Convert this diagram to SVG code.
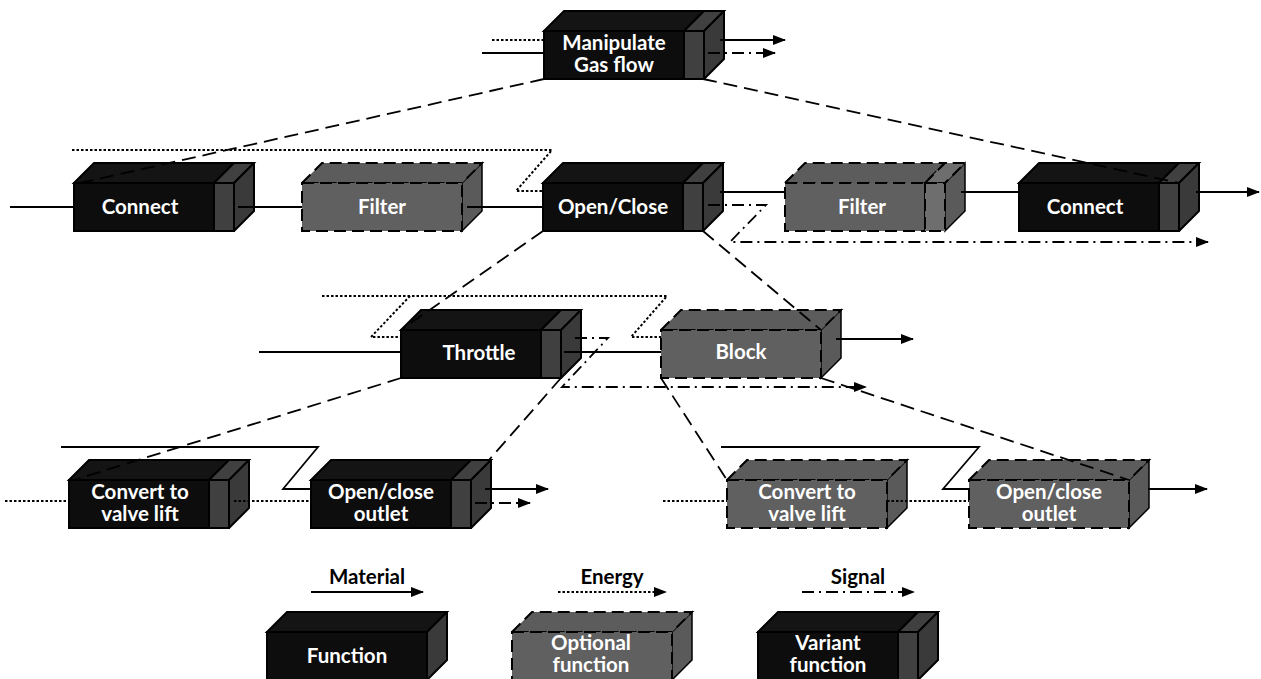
<svg xmlns="http://www.w3.org/2000/svg" xmlns:xlink="http://www.w3.org/1999/xlink" width="1261" height="679" viewBox="0 0 1261 679">
<style>
.bg{fill:#fff}
.fk{fill:#0d0d0d;stroke:#000;stroke-width:2}
.tk{fill:#141414;stroke:#000;stroke-width:2}
.sk{fill:#404040;stroke:#000;stroke-width:2}
.rk{fill:#3a3a3a;stroke:#000;stroke-width:2;stroke-linejoin:round}
.fg{fill:#606060;stroke:#000;stroke-width:2;stroke-dasharray:12 6}
.tg{fill:#5c5c5c;stroke:#000;stroke-width:2;stroke-dasharray:12 6}
.rg{fill:#5a5a5a;stroke:#000;stroke-width:1.5}
.sg{fill:#6e6e6e;stroke:#000;stroke-width:2;stroke-dasharray:12 6}
.lbl{font-family:Lato,"Liberation Sans",sans-serif;font-weight:bold;font-size:20.5px;fill:#fff;text-anchor:middle}
.leg{font-family:Lato,"Liberation Sans",sans-serif;font-weight:bold;font-size:20.5px;fill:#000;text-anchor:middle}
.c{fill:none;stroke:#000;stroke-width:1.8}
.mat{}
.en{stroke-dasharray:2.5 2;stroke-width:2}
.sig{stroke-dasharray:12 5 2 5}
.hier{stroke-dasharray:14 7;stroke-width:1.8}
</style>
<defs>
<marker id="ah" markerUnits="userSpaceOnUse" markerWidth="13" markerHeight="10" refX="12" refY="5" orient="auto">
<path d="M0,0 L13,5 L0,10 z" fill="#000"/>
</marker>
<g id="bv">
<polygon class="tk" points="0,0 20,-20 160,-20 140,0"/>
<polygon class="sk" points="140,0 160,-20 180,-20 160,0"/>
<polygon class="rk" points="160,0 180,-20 180,28 160,48"/>
<rect class="fk" x="0" y="0" width="140" height="48"/>
<rect class="sk" x="140" y="0" width="20" height="48"/>
</g>
<g id="bp">
<polygon class="tk" points="0,0 20,-20 180,-20 160,0"/>
<polygon class="rk" points="160,0 180,-20 180,28 160,48"/>
<rect class="fk" x="0" y="0" width="160" height="48"/>
</g>
<g id="go">
<polygon class="rg" points="160,0 180,-20 180,28 160,48"/>
<polygon class="tg" points="0,0 20,-20 180,-20 160,0"/>
<rect class="fg" x="0" y="0" width="160" height="48"/>
</g>
<g id="gov">
<polygon class="rg" points="160,0 180,-20 180,28 160,48"/>
<polygon class="tg" points="0,0 20,-20 160,-20 140,0"/>
<polygon class="sg" points="140,0 160,-20 180,-20 160,0"/>
<rect class="fg" x="0" y="0" width="140" height="48"/>
<rect class="sg" x="140" y="0" width="20" height="48"/>
</g>
</defs>
<rect class="bg" x="0" y="0" width="1261" height="679"/>

<g id="n-manipulate">
<use xlink:href="#bv" href="#bv" x="544" y="31"/>
<text class="lbl" x="614" y="50">Manipulate</text>
<text class="lbl" x="614" y="72">Gas flow</text>
</g>
<g id="n-connect-l">
<use xlink:href="#bv" href="#bv" x="74" y="183"/>
<text class="lbl" x="140" y="214">Connect</text>
</g>
<g id="n-filter-l">
<use xlink:href="#go" href="#go" x="302" y="183"/>
<text class="lbl" x="382" y="214">Filter</text>
</g>
<g id="n-openclose">
<use xlink:href="#bv" href="#bv" x="543" y="183"/>
<text class="lbl" x="613" y="214">Open/Close</text>
</g>
<g id="n-filter-r">
<use xlink:href="#gov" href="#gov" x="785" y="183"/>
<text class="lbl" x="862" y="214">Filter</text>
</g>
<g id="n-connect-r">
<use xlink:href="#bv" href="#bv" x="1019" y="183"/>
<text class="lbl" x="1085" y="214">Connect</text>
</g>
<g id="n-throttle">
<use xlink:href="#bv" href="#bv" x="401" y="330"/>
<text class="lbl" x="479" y="360">Throttle</text>
</g>
<g id="n-block">
<use xlink:href="#go" href="#go" x="661" y="330"/>
<text class="lbl" x="741" y="359">Block</text>
</g>
<g id="n-convert-l">
<use xlink:href="#bv" href="#bv" x="69" y="480"/>
<text class="lbl" x="140" y="499">Convert to</text>
<text class="lbl" x="140" y="521">valve lift</text>
</g>
<g id="n-outlet-l">
<use xlink:href="#bv" href="#bv" x="311" y="480"/>
<text class="lbl" x="381" y="499">Open/close</text>
<text class="lbl" x="381" y="521">outlet</text>
</g>
<g id="n-convert-r">
<use xlink:href="#go" href="#go" x="727" y="480"/>
<text class="lbl" x="807" y="499">Convert to</text>
<text class="lbl" x="807" y="521">valve lift</text>
</g>
<g id="n-outlet-r">
<use xlink:href="#go" href="#go" x="969" y="480"/>
<text class="lbl" x="1049" y="499">Open/close</text>
<text class="lbl" x="1049" y="521">outlet</text>
</g>
<g id="n-legend-function">
<use xlink:href="#bp" href="#bp" x="267" y="632"/>
<text class="lbl" x="347" y="663">Function</text>
</g>
<g id="n-legend-optional">
<use xlink:href="#go" href="#go" x="512" y="632"/>
<text class="lbl" x="591" y="650">Optional</text>
<text class="lbl" x="591" y="672">function</text>
</g>
<g id="n-legend-variant">
<use xlink:href="#bv" href="#bv" x="758" y="632"/>
<text class="lbl" x="828" y="650">Variant</text>
<text class="lbl" x="828" y="672">function</text>
</g>

<g id="connectors">
<!-- top -->
<path class="c en" d="M492,40 H544"/>
<path class="c mat" d="M482,53 H544"/>
<path class="c mat" d="M720,40 H785" marker-end="url(#ah)"/>
<path class="c sig" d="M708,53 H775" marker-end="url(#ah)"/>
<!-- hierarchy -->
<path class="c hier" d="M544,79 L80,183"/>
<path class="c hier" d="M703,79 L1179,183"/>
<path class="c hier" d="M543,231 L401,330"/>
<path class="c hier" d="M703,231 L821,330"/>
<path class="c hier" d="M401,378 L74,480"/>
<path class="c hier" d="M561,378 L489,460"/>
<path class="c hier" d="M661,378 L727,480"/>
<path class="c hier" d="M821,378 L1129,480"/>
<!-- row 2 -->
<path class="c mat" d="M10,207 H74"/>
<path class="c mat" d="M238,207 H302"/>
<path class="c mat" d="M467,207 H543"/>
<path class="c mat" d="M720,192 H785"/>
<path class="c mat" d="M961,192 H1019"/>
<path class="c mat" d="M1196,192 H1259" marker-end="url(#ah)"/>
<path class="c en" d="M72,150 H552 L516,191 H543"/>
<path class="c sig" d="M708,205 H766 L730,242 H1208" marker-end="url(#ah)"/>
<!-- row 3 -->
<path class="c mat" d="M259,352 H401"/>
<path class="c mat" d="M564,352 H661"/>
<path class="c mat" d="M836,339 H913" marker-end="url(#ah)"/>
<path class="c en" d="M322,296 H667 L631,337 H661"/>
<path class="c en" d="M410,296 L371,337 H401"/>
<path class="c sig" d="M575,338 H608 L562,387 H866" marker-end="url(#ah)"/>
<!-- row 4 left -->
<path class="c mat" d="M61,447 H318 L283,489 H311"/>
<path class="c en" d="M5,501 H69"/>
<path class="c en" d="M234,501 H311"/>
<path class="c mat" d="M485,489 H548" marker-end="url(#ah)"/>
<path class="c sig" d="M475,503 H530" marker-end="url(#ah)"/>
<!-- row 4 right -->
<path class="c mat" d="M721,447 H979 L943,489 H969"/>
<path class="c en" d="M663,501 H727"/>
<path class="c en" d="M887,501 H969"/>
<path class="c mat" d="M1148,489 H1207" marker-end="url(#ah)"/>
<!-- legend -->
<path class="c mat" d="M311,592 H423" marker-end="url(#ah)"/>
<path class="c en" d="M558,592 H666" marker-end="url(#ah)"/>
<path class="c sig" d="M802,592 H914" marker-end="url(#ah)"/>
</g>
<g id="legend-labels">
<text class="leg" x="367" y="584">Material</text>
<text class="leg" x="612" y="584">Energy</text>
<text class="leg" x="858" y="584">Signal</text>
</g>
</svg>
